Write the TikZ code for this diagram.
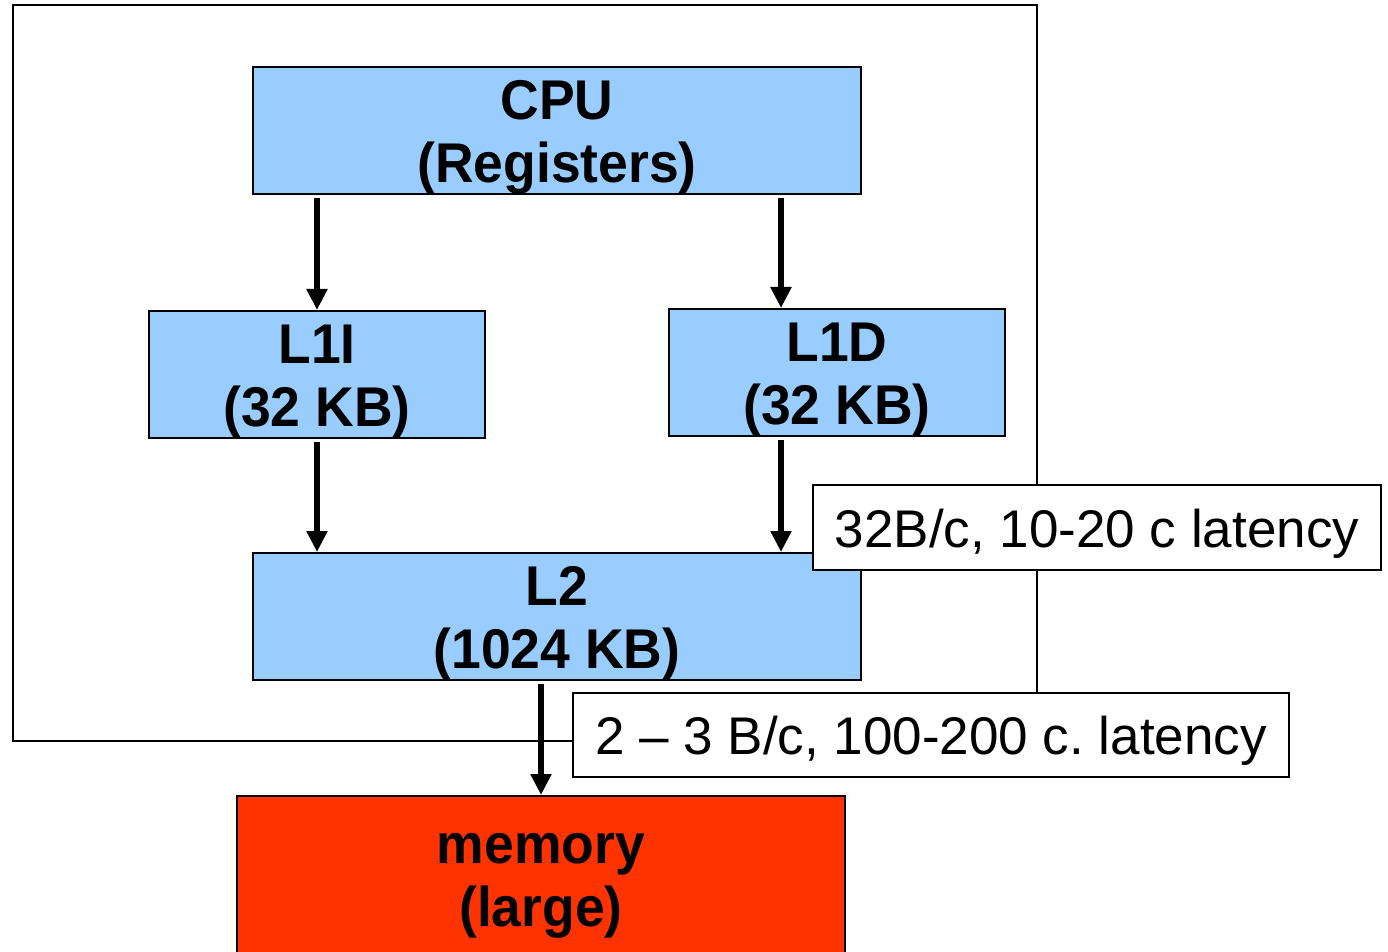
\documentclass[tikz,border=0pt]{standalone}
\usepackage{fontspec}
\setmainfont{Liberation Sans}
\newfontfamily\boxfont[FakeStretch=0.955]{Liberation Sans}
\usetikzlibrary{arrows.meta}
\definecolor{cacheblue}{HTML}{99CCFF}
\definecolor{memred}{HTML}{FF3300}
\frenchspacing
\tikzset{
  level/.style={draw=black, line width=1pt, fill=cacheblue, minimum height=63.5pt,
    inner sep=0pt},
  leveltext/.style={align=center, inner sep=0pt,
    font=\boxfont\fontsize{28}{31.5}\selectfont\bfseries},
  note/.style={draw=black, line width=1pt, fill=white, inner sep=0pt,
    text height=22pt, text depth=2.2pt,
    font=\fontsize{26.5}{30}\selectfont},
  link/.style={line width=3pt, shorten <=1.5pt, -{Triangle[length=10.5pt,width=10pt]}},
  frame/.style={line width=1pt},
}
\begin{document}
\begin{tikzpicture}[x=0.5pt,y=-0.5pt]
\useasboundingbox (0,0) rectangle (1388,952);

% chip boundary
\draw[frame] (13,5) rectangle (1037,741);

% memory hierarchy levels
\node[level, minimum width=304pt,
  label={[leveltext, yshift=-3.5pt]center:CPU\\(Registers)}] (cpu) at (557,130.5) {};
\node[level, minimum width=168pt,
  label={[leveltext, yshift=-3.5pt]center:L1I\\(32 KB)}] (l1i) at (317,374.5) {};
\node[level, minimum width=168pt,
  label={[leveltext, yshift=-3.5pt]center:L1D\\(32 KB)}] (l1d) at (837,372.5) {};
\node[level, minimum width=304pt,
  label={[leveltext, yshift=-3.5pt]center:L2\\(1024 KB)}] (l2) at (557,616.5) {};
\node[level, fill=memred, minimum width=304pt, minimum height=90pt, anchor=north,
  label={[leveltext, yshift=0pt]center:memory\\(large)}] (mem) at (541,795) {};

% data paths
\coordinate (rx) at (781,0);
\draw[link] (cpu.south -| l1i) -- (l1i.north);
\draw[link] (cpu.south -| rx) -- (l1d.north -| rx);
\draw[link] (l1i.south) -- (l2.north -| l1i);
\draw[link] (l1d.south -| rx) -- (l2.north -| rx);
\draw[link] (l2.south -| mem) -- (mem.north);

% bandwidth / latency annotations
\node[note, minimum width=284pt, minimum height=42.5pt] (bw1) at (1097,527.5) {32B/c, 10-20 c latency};
\node[note, minimum width=358pt, minimum height=42pt] (bw2) at (931,735) {2 – 3 B/c, 100-200 c. latency};
\end{tikzpicture}
\end{document}
